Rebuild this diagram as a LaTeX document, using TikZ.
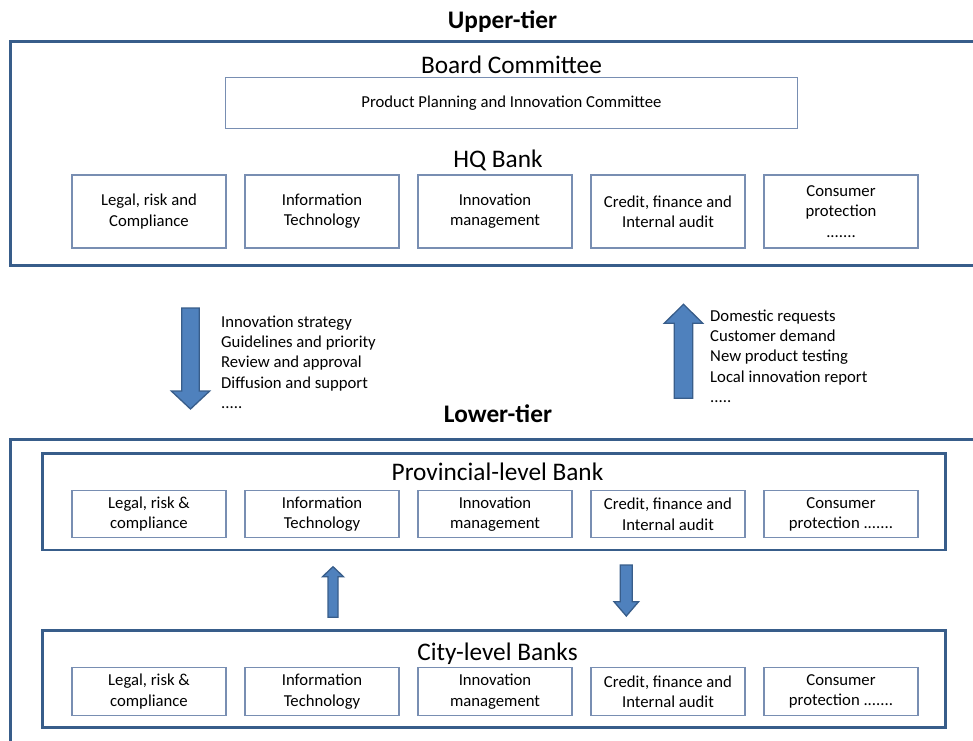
\documentclass[tikz,border=0pt]{standalone}
\usepackage{fontspec}
\setmainfont{Carlito}
\usetikzlibrary{positioning}
\definecolor{frameblue}{RGB}{56,93,138}
\definecolor{boxline}{RGB}{120,142,178}
\definecolor{arrowfill}{RGB}{79,129,189}
\newcommand{\boxfont}{\fontsize{16.7}{20.3}\selectfont}
\newcommand{\levelfont}{\fontsize{25.3}{30}\selectfont}
% x, tail y, head base y, tip y, half shaft, half head
\newcommand{\blockarrow}[6]{\draw[barrow] (#1-#5,#2) -- (#1+#5,#2) -- (#1+#5,#3) -- (#1+#6,#3) -- (#1,#4) -- (#1-#6,#3) -- (#1-#5,#3) -- cycle;}

\begin{document}
\begin{tikzpicture}[x=1pt, y=-1pt,
  frame/.style={draw=frameblue, line width=3pt, inner sep=0pt},
  unit/.style={draw=boxline, line width=1.2pt, minimum width=154pt, inner sep=0pt, align=center, font=\boxfont},
  lbl/.style={font=\levelfont, inner sep=0pt, anchor=base},
  flow/.style={font=\boxfont, align=left, anchor=base west, inner sep=0pt},
  barrow/.style={draw=frameblue, line width=1.3pt, fill=arrowfill}]
\useasboundingbox (0,0) rectangle (973,740);
\clip (0,0) rectangle (973,740);

% upper tier
\node[lbl, font=\levelfont\bfseries] (uptitle) at (502.5,28) {Upper-tier};
\node[frame, minimum width=975pt, minimum height=224pt] (upper) at (497.5,153.5) {};
\node[lbl] (board) at (511.5,73.3) {Board Committee};
\node[unit, minimum width=572pt, minimum height=50.6pt] (ppic) at (511.5,103) {Product Planning and Innovation Committee};
\node[lbl] (hq) at (498,167) {HQ Bank};
\foreach \i/\t in {1/{Legal, risk and\\Compliance},2/{Information\\Technology},3/{Innovation\\management},4/{Credit, finance and\\Internal audit},5/{Consumer\\protection\\.......}}
  {\node[unit, minimum height=73pt] (hq\i) at ({173*\i-24},211.5) {\t};}

% flows between the tiers (base = last line)
\blockarrow{190.5}{308}{391}{409}{8.8}{19.2}
\node[flow] (downflow) at (221,408.5)
  {Innovation strategy\\Guidelines and priority\\Review and approval\\Diffusion and support\\.....};
\blockarrow{683.5}{398.3}{323.3}{304.3}{9.2}{19.3}
\node[flow] (upflow) at (710,402.3)
  {Domestic requests\\Customer demand\\New product testing\\Local innovation report\\.....};

% lower tier
\node[lbl, font=\levelfont\bfseries] (lowtitle) at (498,422) {Lower-tier};
\node[frame, minimum width=975pt, minimum height=330pt] (lower) at (497.5,604) {};
\node[frame, line width=2.6pt, minimum width=903.4pt, minimum height=96.7pt] (prov) at (494,501.7) {};
\node[lbl] (provtitle) at (497.5,480) {Provincial-level Bank};
\node[frame, line width=2.6pt, minimum width=903.4pt, minimum height=96.6pt] (city) at (494,679) {};
\node[lbl] (citytitle) at (497.5,660) {City-level Banks};
\foreach \i/\t in {1/{Legal, risk \&\\compliance},2/{Information\\Technology},3/{Innovation\\management},4/{Credit, finance and\\Internal audit},5/{Consumer\\protection .......}}
  {\node[unit, minimum height=47pt] (pv\i) at ({173*\i-24},514.2) {\t};
   \node[unit, minimum height=47.6pt] (ct\i) at ({173*\i-24},691.5) {\t};}

\blockarrow{333}{617.3}{576.7}{566.7}{5}{10.5}
\blockarrow{626.3}{565}{601.7}{616}{6}{12.3}
\end{tikzpicture}
\end{document}
